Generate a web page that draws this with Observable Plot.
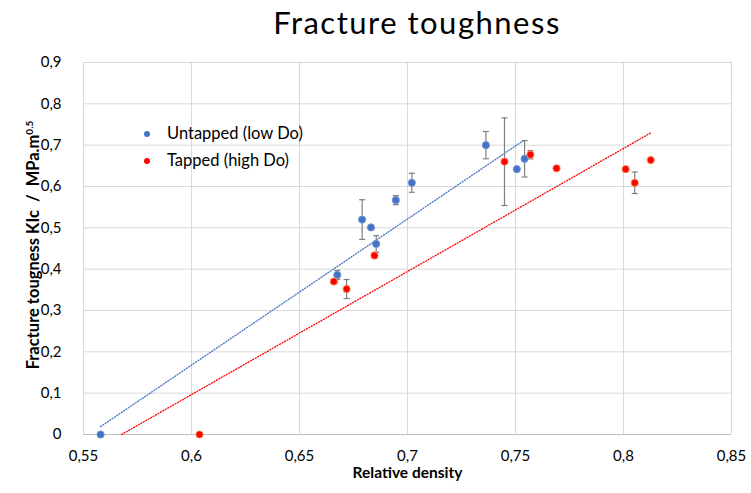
<!DOCTYPE html>
<html>
<head>
<meta charset="utf-8">
<script src="https://cdn.jsdelivr.net/npm/d3@7"></script>
<script src="https://cdn.jsdelivr.net/npm/@observablehq/plot@0.6"></script>
<style>
  html, body { margin: 0; padding: 0; background: #fff; }
  #wrap { position: relative; width: 751px; height: 493px; font-family: Lato, "Open Sans", sans-serif; color: #000; }
  #title { height: 45px; line-height: 45px; font-size: 31px; letter-spacing: 1.5px; text-align: center; padding-left: 83px; box-sizing: border-box; width: 751px; }
  #ytitle { position: absolute; left: 33px; top: 245px; transform: translate(-50%, -50%) rotate(-90deg); white-space: nowrap; font-weight: bold; font-size: 16.5px; line-height: 18px; }
  #ytitle sup { font-size: 10px; line-height: 0; }
  .legend { position: absolute; left: 144px; font-size: 16.5px; line-height: 20px; }
  .legend span.dot { display: inline-block; width: 6px; height: 6px; border-radius: 50%; margin-right: 17px; vertical-align: middle; position: relative; top: -1px; }
  svg text { font-family: Lato, "Open Sans", sans-serif; }
</style>
</head>
<body>
<div id="wrap">
  <div id="title">Fracture toughness</div>
  <div id="chart"></div>
  <div id="ytitle">Fracture tougness KIc&nbsp; / &nbsp;MPa.m<sup>0.5</sup></div>
  <div class="legend" style="top:123px"><span class="dot" style="background:#4472c4"></span>Untapped (low Do)</div>
  <div class="legend" style="top:150px"><span class="dot" style="background:#ff0000"></span>Tapped (high Do)</div>
</div>
<script>
// Untapped (low Do)
const blueX   = [0.5579, 0.6675, 0.679, 0.6831, 0.6855, 0.6946, 0.702, 0.7363, 0.7506, 0.7542];
const blueY   = [0,      0.386,  0.520, 0.501,  0.461,  0.567,  0.609, 0.700,  0.642,  0.667];
const blueErr = [0,      0.011,  0.048, 0,      0.020,  0.011,  0.023, 0.033,  0,      0.044];
// Tapped (high Do)
const redX    = [0.6037, 0.6659, 0.6718, 0.6847, 0.7449, 0.7569, 0.769, 0.801, 0.8052, 0.8126];
const redY    = [0,      0.370,  0.352,  0.433,  0.660,  0.677,  0.644, 0.642, 0.609,  0.664];
const redErr  = [0,      0,      0.023,  0.007,  0.106,  0.010,  0.005, 0,     0.026,  0];
// Linear trendlines (endpoints)
const blueTrendX = [0.5579, 0.7542];
const blueTrendY = [0.019, 0.713];
const redTrendX  = [0.5676, 0.8126];
const redTrendY  = [0, 0.7296];
// Ticks
const xTicks = [0.55, 0.6, 0.65, 0.7, 0.75, 0.8, 0.85];
const xTickLabels = ["0,55", "0,6", "0,65", "0,7", "0,75", "0,8", "0,85"];
const yTicks = [0, 0.1, 0.2, 0.3, 0.4, 0.5, 0.6, 0.7, 0.8, 0.9];
const yTickLabels = ["0", "0,1", "0,2", "0,3", "0,4", "0,5", "0,6", "0,7", "0,8", "0,9"];

const mk = (xs, ys, es) => xs.map((x, i) => ({x, y: ys[i], e: es[i]}));
const blue = mk(blueX, blueY, blueErr);
const red = mk(redX, redY, redErr);
const bErr = blue.filter(d => d.e > 0);
const rErr = red.filter(d => d.e > 0);
const trend = (xs, ys) => xs.map((x, i) => ({x, y: ys[i]}));

const cap = { draw(ctx, size) { ctx.moveTo(-3, 0); ctx.lineTo(3, 0); } };
const errColor = "#7f7f7f";
const errMarks = (data) => [
  Plot.ruleX(data, {x: "x", y1: d => d.y - d.e, y2: d => d.y + d.e, stroke: errColor, strokeWidth: 1.2}),
  Plot.dot(data, {x: "x", y: d => d.y + d.e, symbol: cap, stroke: errColor, strokeWidth: 1.2}),
  Plot.dot(data, {x: "x", y: d => d.y - d.e, symbol: cap, stroke: errColor, strokeWidth: 1.2})
];

const chart = Plot.plot({
  width: 751,
  height: 448,
  marginTop: 17,
  marginBottom: 59,
  marginLeft: 83,
  marginRight: 20,
  style: {fontSize: "15px", fontFamily: "Lato, 'Open Sans', sans-serif", color: "#000"},
  x: {domain: [0.55, 0.85]},
  y: {domain: [0, 0.9]},
  marks: [
    Plot.gridX(xTicks, {stroke: "#d9d9d9", strokeOpacity: 1}),
    Plot.gridY(yTicks, {stroke: "#d9d9d9", strokeOpacity: 1}),
    Plot.ruleY([0], {stroke: "#bfbfbf"}),
    Plot.axisY({ticks: yTicks, tickFormat: (d) => yTickLabels[yTicks.indexOf(d)], tickSize: 0, tickPadding: 22, label: null}),
    Plot.axisX({ticks: xTicks, tickFormat: (d) => xTickLabels[xTicks.indexOf(d)], tickSize: 0, tickPadding: 16, label: null}),
    Plot.line(trend(blueTrendX, blueTrendY), {x: "x", y: "y", stroke: "#4472c4", strokeWidth: 1.3, strokeDasharray: "1,1.8"}),
    Plot.line(trend(redTrendX, redTrendY), {x: "x", y: "y", stroke: "#ff0000", strokeWidth: 1.3, strokeDasharray: "1,1.8"}),
    ...errMarks(bErr),
    ...errMarks(rErr),
    Plot.dot(blue, {x: "x", y: "y", r: 3.6, fill: "#4472c4", stroke: "#6f95d8", strokeWidth: 1}),
    Plot.dot(red, {x: "x", y: "y", r: 3.6, fill: "#ff0000", stroke: "#f7864a", strokeWidth: 1}),
    Plot.text(["Relative density"], {frameAnchor: "bottom", dy: 43, fontWeight: "bold", fontSize: 15.5, text: d => d})
  ]
});
document.getElementById("chart").appendChild(chart);
</script>
</body>
</html>
